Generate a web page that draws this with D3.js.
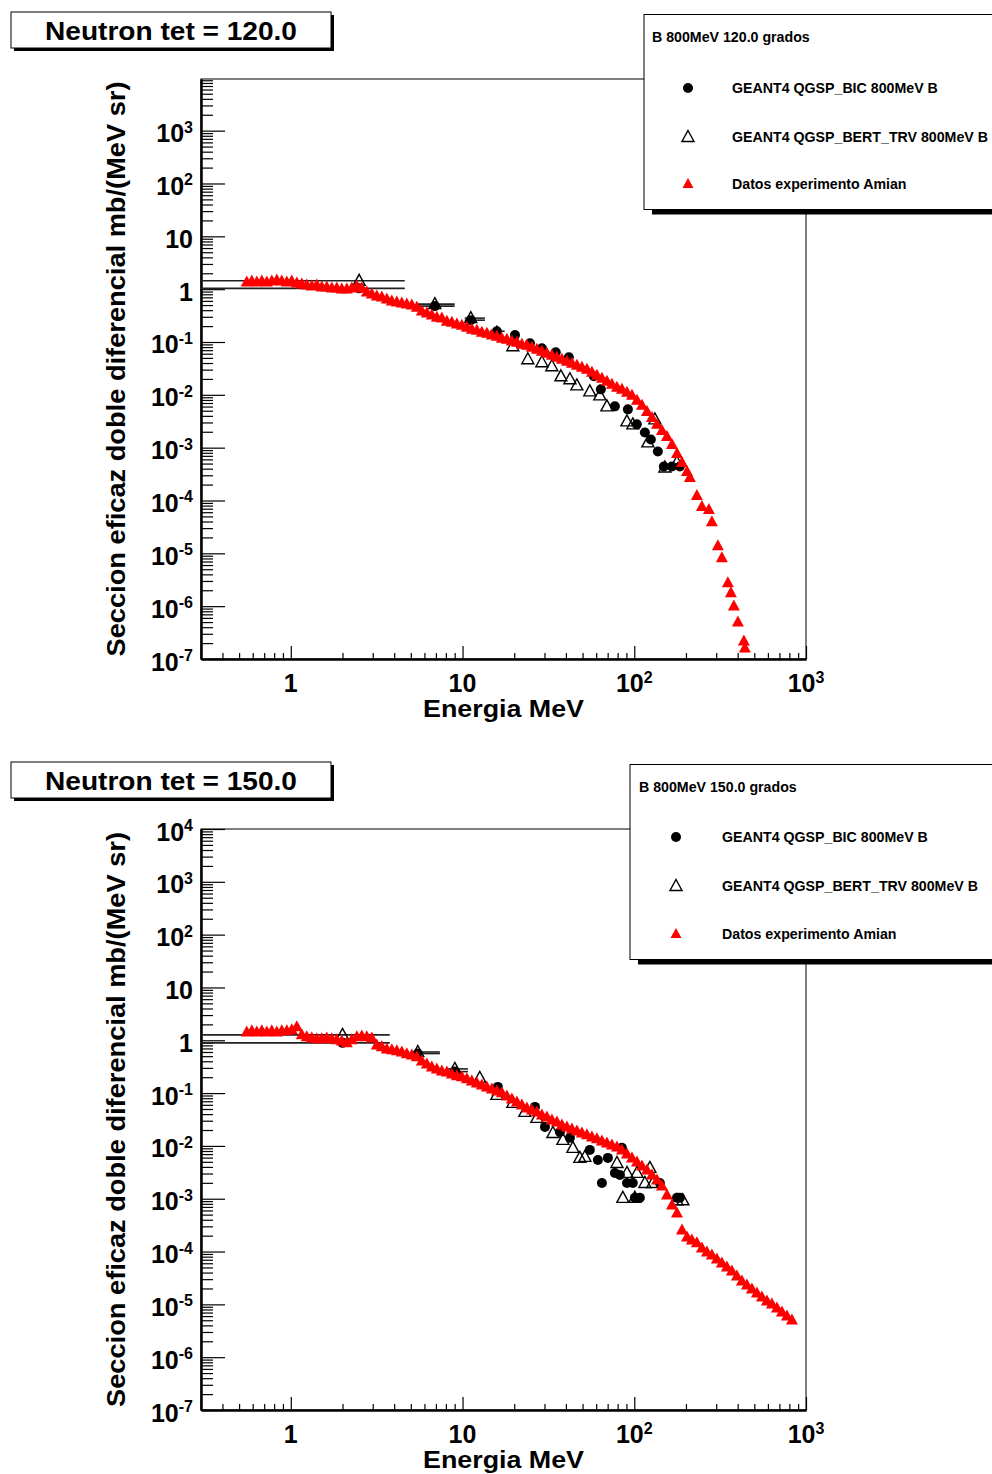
<!DOCTYPE html>
<html lang="es">
<head>
  <meta charset="UTF-8">
  <title>Neutron tet = 120.0 / 150.0</title>
  <script src="https://d3js.org/d3.v7.min.js"></script>
  <style>
    body {
      margin: 0;
      background: #fff;
    }
    svg {
      display: block;
      font-family: 'Liberation Sans', Arial, Helvetica, sans-serif;
      font-weight: bold;
    }
  </style>
</head>
<body>
  <svg id="chart" width="992" height="1474"></svg>

  <script>
    // --- datos: tet = 120.0 ---
    const amian120E = [0.554,0.593,0.634,0.678,0.725,0.775,0.829,0.886,0.948,1.013,
      1.084,1.159,1.239,1.325,1.417,1.515,1.620,1.733,1.853,1.981,
      2.119,2.266,2.423,2.591,2.771,2.963,3.168,3.388,3.623,3.875,
      4.143,4.431,4.738,5.067,5.418,5.794,6.196,6.626,7.086,7.577,
      8.103,8.665,9.266,9.909,10.60,11.33,12.12,12.96,13.86,14.82,
      15.85,16.95,18.12,19.38,20.73,22.16,23.70,25.35,27.10,28.99,
      31.00,33.15,35.45,37.91,40.54,43.35,46.36,49.57,53.01,56.69,
      60.62,64.83,69.32,74.13,79.28,84.78,90.66,96.95,103.7,110.9,
      118.6,126.8,135.6,145.0,155.0,165.8,177.3,189.6,202.8,
      210.8,231.5,247.6,272.0,283.1,306.8,323.7,350.8,365.2,380.2,401.3,434.8,440.7];
    const amian120V = [1.363,1.424,1.363,1.424,1.363,1.424,1.488,1.424,1.363,1.424,
      1.305,1.249,1.196,1.145,1.196,1.096,1.096,1.049,1.049,1.004,
      1.004,1.049,1.145,1.049,0.881,0.807,0.740,0.708,0.649,0.595,
      0.569,0.545,0.522,0.499,0.457,0.384,0.352,0.323,0.295,0.283,
      0.248,0.237,0.218,0.208,0.191,0.175,0.167,0.153,0.147,0.135,
      0.129,0.118,0.113,0.104,0.0991,0.0908,0.0870,0.0797,0.0730,0.0669,
      0.0613,0.0562,0.0515,0.0472,0.0432,0.0396,0.0363,0.0332,0.0305,0.0267,
      0.0234,0.0206,0.0180,0.0158,0.0139,0.0127,0.0112,0.00978,0.00786,0.00632,
      0.00486,0.00374,0.00276,0.00212,0.00163,0.00115,7.76e-4,5.24e-4,3.54e-4,
      2.72e-4,1.24e-4,7.66e-5,6.72e-5,3.98e-5,1.39e-5,8.25e-6,2.77e-6,1.79e-6,1.01e-6,5.04e-7,2.20e-7,1.62e-7];

    const bic120E = [2.5, 6.90, 11.17, 15.84, 20.2, 24.7, 28.97, 34.9, 41.6, 58.2, 63.9, 77.1, 91.8, 103.5, 115.3, 124.9, 137.2, 148.7, 165.6, 184.3];
    const bic120V = [1.035, 0.478, 0.259, 0.160, 0.135, 0.0949, 0.0762, 0.0640, 0.0515, 0.0224, 0.0127, 0.00605, 0.00531, 0.00276, 0.00194, 0.00143, 8.47e-4, 4.40e-4, 4.40e-4, 4.40e-4];
    const bic120Lo = [0, 5.5, 10.3, 14.4];
    const bic120Hi = [4.61, 9.0, 13.5, 17.6];

    const bert120E = [2.5, 6.90, 11.17, 15.84, 19.63, 24.0, 28.97, 33.1, 37.4, 42.2, 46.3, 55.1, 63.0, 69.3, 90.6, 98.1, 120.0, 131.8, 150.7, 177.1];
    const bert120V = [1.44, 0.52, 0.283, 0.150, 0.0832, 0.0472, 0.0414, 0.0347, 0.0224, 0.0197, 0.0151, 0.0116, 0.00978, 0.00605, 0.00314, 0.00276, 0.00126, 0.00343, 4.21e-4, 5.24e-4];
    const bert120Lo = [0, 5.5, 10.3];
    const bert120Hi = [4.61, 9.0, 13.5];

    // --- datos: tet = 150.0 ---
    const amian150E = [0.554,0.593,0.634,0.678,0.725,0.775,0.829,0.886,0.948,1.013,
      1.084,1.159,1.239,1.325,1.417,1.515,1.620,1.733,1.853,1.981,
      2.119,2.266,2.423,2.591,2.771,2.963,3.168,3.388,3.623,3.875,
      4.143,4.431,4.738,5.067,5.418,5.794,6.196,6.626,7.086,7.577,
      8.103,8.665,9.266,9.909,10.60,11.33,12.12,12.96,13.86,14.82,
      15.85,16.95,18.12,19.38,20.73,22.16,23.70,25.35,27.10,28.99,
      31.00,33.15,35.45,37.91,40.54,43.35,46.36,49.57,53.01,56.69,
      60.62,64.83,69.32,74.13,79.28,84.78,90.66,96.95,103.7,110.9,
      118.6,126.8,135.6,145.0,155.0,165.8,177.3,189.6,202.8,216.5,
      231.5,247.6,264.8,283.1,302.8,323.7,346.2,370.2,395.9,423.4,
      452.8,484.2,517.8,553.7,592.2,633.2,677.2,724.2,774.4,828.2];
    const amian150V = [1.442,1.507,1.442,1.507,1.442,1.507,1.442,1.507,1.507,1.574,
      1.794,1.266,1.160,1.110,1.063,1.063,1.110,1.063,1.018,0.974,
      0.893,1.018,1.160,1.211,1.160,1.110,0.818,0.750,0.687,0.658,
      0.630,0.603,0.553,0.529,0.485,0.407,0.357,0.313,0.287,0.263,
      0.252,0.231,0.212,0.203,0.186,0.170,0.156,0.143,0.131,0.120,
      0.110,0.101,0.0885,0.0777,0.0681,0.0598,0.0524,0.0481,0.0440,0.0386,
      0.0354,0.0311,0.0285,0.0250,0.0229,0.0210,0.0192,0.0176,0.0162,0.0148,
      0.0136,0.0124,0.0114,0.0104,0.00957,0.00840,0.00706,0.00593,0.00498,0.00418,
      0.00351,0.00282,0.00227,0.00175,0.00118,7.63e-4,5.38e-4,2.56e-4,1.89e-4,1.66e-4,
      1.46e-4,1.17e-4,9.83e-5,8.62e-5,7.24e-5,6.08e-5,5.11e-5,4.29e-5,3.45e-5,2.77e-5,
      2.33e-5,1.96e-5,1.64e-5,1.38e-5,1.16e-5,1.02e-5,8.55e-6,7.18e-6,6.03e-6,5.06e-6];

    const bic150E = [2.0, 5.49, 9.02, 16.05, 26.4, 30.2, 36.9, 42.2, 55.1, 61.4, 64.8, 70.2, 77.1, 82.5, 84.7, 90.7, 98.1, 100.8, 107.8, 141.0, 177.3, 184.3];
    const bic150V = [0.893, 0.56, 0.255, 0.131, 0.0548, 0.0229, 0.0184, 0.0142, 0.00840, 0.00543, 0.00199, 0.00593, 0.00308, 0.00282, 0.0092, 0.00199, 0.00199, 0.00104, 0.00104, 0.00199, 0.00104, 0.00104];
    const bic150Lo = [0, 5.13, 8.08];
    const bic150Hi = [3.77, 7.38, 10.75];

    const bert150E = [2.0, 5.49, 9.02, 12.6, 15.85, 19.63, 23.05, 27.1, 33.6, 38.4, 43.9, 48.2, 51.6, 79.3, 85.8, 90.7, 100.8, 103.7, 115.3, 123.3, 128.3, 177.3, 191.9];
    const bert150V = [1.266, 0.60, 0.287, 0.194, 0.0924, 0.0652, 0.0440, 0.0339, 0.0176, 0.0130, 0.00917, 0.00593, 0.00619, 0.00476, 0.00104, 0.00308, 0.00104, 0.00308, 0.00199, 0.00383, 0.00199, 9.33e-4, 9.33e-4];
    const bert150Lo = [0, 5.13, 8.08];
    const bert150Hi = [3.77, 7.38, 10.75];

    // etiquetas
    const xMajorTicks = [1, 10, 100, 1000];
    const legendLabels = ["GEANT4 QGSP_BIC 800MeV B", "GEANT4 QGSP_BERT_TRV 800MeV B", "Datos experimento Amian"];
    const xTitle = "Energia MeV";
    const yTitle = "Seccion eficaz doble diferencial mb/(MeV sr)";

    const panels = [
      {
        title: "Neutron tet = 120.0", legendTitle: "B 800MeV 120.0 grados",
        top: 79, bottom: 659, yMax: 9.5e3,
        box: { x: 11, y: 12 },
        leg: { x: 644, y: 14.5, h: 195, tx: 652, ty: 41.5, mx: 688, lx: 732, rows: [88, 137, 184] },
        amian: [amian120E, amian120V],
        bic: [bic120E, bic120V, bic120Lo, bic120Hi],
        bert: [bert120E, bert120V, bert120Lo, bert120Hi]
      },
      {
        title: "Neutron tet = 150.0", legendTitle: "B 800MeV 150.0 grados",
        top: 829, bottom: 1410, yMax: 1e4,
        box: { x: 11, y: 762 },
        leg: { x: 630, y: 764.5, h: 195, tx: 639, ty: 791.5, mx: 676, lx: 722, rows: [837, 886, 934] },
        amian: [amian150E, amian150V],
        bic: [bic150E, bic150V, bic150Lo, bic150Hi],
        bert: [bert150E, bert150V, bert150Lo, bert150Hi]
      }
    ];

    const svg = d3.select("#chart");
    const frameLeft = 201, frameRight = 806;

    // marcadores (estilo ROOT)
    const triFilled = "M0,-6.5L6,4.5L-6,4.5Z";
    const triLegend = "M0,-6L5.5,4L-5.5,4Z";
    const triOpen = "M0,-6.5L6,4.5L-6,4.5Z";

    function drawCircle(sel, cx, cy) {
      sel.append("circle").attr("cx", cx).attr("cy", cy).attr("r", 5).attr("fill", "#000");
    }
    function drawOpenTri(sel, cx, cy) {
      sel.append("path").attr("d", triOpen).attr("transform", `translate(${cx},${cy})`)
        .attr("fill", "none").attr("stroke", "#000").attr("stroke-width", 1.4);
    }
    function drawRedTri(sel, cx, cy, shape) {
      sel.append("path").attr("d", shape || triFilled).attr("transform", `translate(${cx},${cy})`)
        .attr("fill", "#ff0000");
    }

    // etiqueta de potencia de 10 con superindice
    function powLabel(text, v) {
      const e = Math.round(Math.log10(v));
      if (e === 0) { text.text("1"); return; }
      if (e === 1) { text.text("10"); return; }
      text.append("tspan").text("10");
      text.append("tspan").attr("font-size", 16).attr("dy", -9.5).text(String(e));
    }

    function minorTicks(lo, hi) {
      const out = [];
      for (let n = -8; n <= 4; n++) {
        for (let k = 2; k <= 9; k++) {
          const v = k * Math.pow(10, n);
          if (v > lo && v < hi) out.push(v);
        }
      }
      return out;
    }
    function majorTicks(lo, hi) {
      const out = [];
      for (let n = -8; n <= 4; n++) {
        const v = Math.pow(10, n);
        if (v >= lo * 0.999 && v <= hi * 1.001) out.push(v);
      }
      return out;
    }

    panels.forEach((p, i) => {
      const x = d3.scaleLog().domain([0.3, 1000]).range([frameLeft, frameRight]);
      const y = d3.scaleLog().domain([1e-7, p.yMax]).range([p.bottom, p.top]);
      const g = svg.append("g");

      const clipId = "frameClip" + i;
      svg.append("clipPath").attr("id", clipId).append("rect")
        .attr("x", frameLeft).attr("y", p.top)
        .attr("width", frameRight - frameLeft).attr("height", p.bottom - p.top);

      // marco
      g.append("rect")
        .attr("x", frameLeft).attr("y", p.top)
        .attr("width", frameRight - frameLeft).attr("height", p.bottom - p.top)
        .attr("fill", "none").attr("stroke", "#000").attr("stroke-width", 1);

      // eje X
      const xMinor = d3.axisBottom(x).tickValues(minorTicks(0.3, 1000))
        .tickSize(-6).tickSizeOuter(0).tickFormat("");
      const xMajor = d3.axisBottom(x).tickValues(xMajorTicks)
        .tickSize(-13).tickSizeOuter(0).tickFormat("");
      const gx = g.append("g").attr("transform", `translate(0,${p.bottom})`);
      gx.append("g").call(xMinor);
      gx.append("g").call(xMajor);
      gx.selectAll(".domain").attr("stroke-width", 2);
      gx.selectAll(".tick line").attr("stroke-width", 1.2);
      xMajorTicks.forEach(v => {
        const t = g.append("text")
          .attr("x", x(v)).attr("y", p.bottom + 33)
          .attr("text-anchor", "middle").attr("font-size", 25);
        powLabel(t, v);
      });
      g.append("text")
        .attr("x", (frameLeft + frameRight) / 2).attr("y", p.bottom + 58)
        .attr("text-anchor", "middle").attr("font-size", 24)
        .attr("textLength", 161).attr("lengthAdjust", "spacingAndGlyphs")
        .text(xTitle);

      // eje Y
      const yMinor = d3.axisLeft(y).tickValues(minorTicks(1e-7, p.yMax))
        .tickSize(-12).tickSizeOuter(0).tickFormat("");
      const yMaj = majorTicks(1e-7, p.yMax);
      const yMajor = d3.axisLeft(y).tickValues(yMaj)
        .tickSize(-24).tickSizeOuter(0).tickFormat("");
      const gy = g.append("g").attr("transform", `translate(${frameLeft},0)`);
      gy.append("g").call(yMinor);
      gy.append("g").call(yMajor);
      gy.selectAll(".domain").attr("stroke-width", 2);
      gy.selectAll(".tick line").attr("stroke-width", 1.2);
      yMaj.forEach(v => {
        const t = g.append("text")
          .attr("x", 193).attr("y", y(v) + 11.5)
          .attr("text-anchor", "end").attr("font-size", 25);
        powLabel(t, v);
      });
      const yc = (p.top + p.bottom) / 2;
      g.append("text")
        .attr("transform", `translate(125,${yc}) rotate(-90)`)
        .attr("text-anchor", "middle").attr("font-size", 25)
        .attr("textLength", 575).attr("lengthAdjust", "spacingAndGlyphs")
        .text(yTitle);

      // datos
      const plot = g.append("g").attr("clip-path", `url(#${clipId})`);
      const xClamp = v => x(Math.max(v, 0.3));

      [p.bic, p.bert].forEach(s => {
        const [E, V, lo, hi] = s;
        lo.forEach((l, j) => {
          plot.append("line")
            .attr("x1", xClamp(l)).attr("x2", x(hi[j]))
            .attr("y1", y(V[j])).attr("y2", y(V[j]))
            .attr("stroke", "#222").attr("stroke-width", 1.6);
        });
      });
      p.bic[0].forEach((e, j) => drawCircle(plot, x(e), y(p.bic[1][j])));
      p.bert[0].forEach((e, j) => drawOpenTri(plot, x(e), y(p.bert[1][j])));
      p.amian[0].forEach((e, j) => drawRedTri(plot, x(e), y(p.amian[1][j])));

      // caja de titulo
      g.append("rect").attr("x", p.box.x + 3).attr("y", p.box.y + 3)
        .attr("width", 320).attr("height", 36).attr("fill", "#000");
      g.append("rect").attr("x", p.box.x).attr("y", p.box.y)
        .attr("width", 320).attr("height", 36)
        .attr("fill", "#fff").attr("stroke", "#000").attr("stroke-width", 1);
      g.append("text")
        .attr("x", p.box.x + 160).attr("y", p.box.y + 28)
        .attr("text-anchor", "middle").attr("font-size", 25)
        .attr("textLength", 252).attr("lengthAdjust", "spacingAndGlyphs")
        .text(p.title);

      // leyenda
      const L = p.leg;
      g.append("rect").attr("x", L.x + 8).attr("y", L.y + 5)
        .attr("width", 400).attr("height", L.h).attr("fill", "#000");
      g.append("rect").attr("x", L.x).attr("y", L.y)
        .attr("width", 400).attr("height", L.h)
        .attr("fill", "#fff").attr("stroke", "#000").attr("stroke-width", 1);
      g.append("text").attr("x", L.tx).attr("y", L.ty)
        .attr("font-size", 14.2).text(p.legendTitle);
      drawCircle(g, L.mx, L.rows[0]);
      drawOpenTri(g, L.mx, L.rows[1]);
      drawRedTri(g, L.mx, L.rows[2], triLegend);
      legendLabels.forEach((lab, j) => {
        g.append("text").attr("x", L.lx).attr("y", L.rows[j] + 5.2)
          .attr("font-size", 14.2).text(lab);
      });
    });
  </script>
</body>
</html>
